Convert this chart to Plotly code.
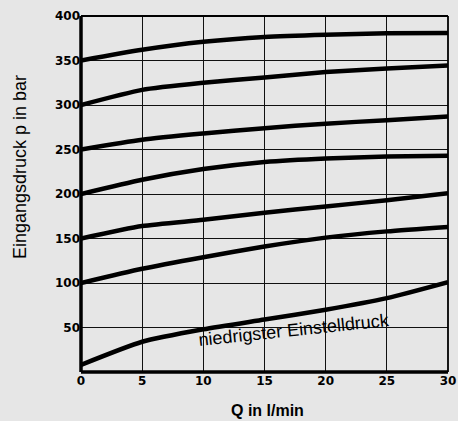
import plotly.graph_objects as go

q = [0, 5, 10, 15, 20, 25, 30]
curve_350 = [350, 362, 371, 376.5, 379, 380.5, 381]
curve_300 = [300, 317, 325, 331, 337, 341, 344.5]
curve_250 = [250, 261, 268, 274, 279, 283, 287]
curve_200 = [200, 216, 228, 236, 240, 242, 243]
curve_150 = [150, 164, 171, 179, 186, 193, 201]
curve_100 = [100, 116, 129, 141, 151, 158, 163]
curve_min = [8, 34, 48, 59, 70, 83, 101]

x_ticks = [0, 5, 10, 15, 20, 25, 30]
y_ticks = [50, 100, 150, 200, 250, 300, 350, 400]

L, R, T, B = 81, 10, 16, 49
PW = 458 - L - R
PH = 421 - T - B

fig = go.Figure()
for c in [curve_350, curve_300, curve_250, curve_200, curve_150, curve_100, curve_min]:
    fig.add_trace(go.Scatter(x=q, y=c, mode="lines",
                             line=dict(color="black", width=4.5, shape="spline", smoothing=0.6),
                             showlegend=False, hoverinfo="skip"))

fig.update_layout(
    width=458, height=421,
    margin=dict(l=L, r=R, t=T, b=B, autoexpand=False),
    paper_bgcolor="#e6e6e6", plot_bgcolor="#e6e6e6",
    showlegend=False,
)
fig.update_xaxes(range=[0, 30], tickvals=x_ticks, ticktext=[str(v) for v in x_ticks],
                 showgrid=True, gridcolor="#111111", gridwidth=1.1,
                 showline=False, zeroline=False, ticks="", automargin=False,
                 tickfont=dict(family="DejaVu Sans", size=12, color="black", weight="bold"),
                 fixedrange=True)
fig.update_yaxes(range=[0, 400], tickvals=y_ticks, ticktext=[str(v) for v in y_ticks],
                 showgrid=True, gridcolor="#111111", gridwidth=1.1,
                 showline=False, zeroline=False, ticks="", automargin=False,
                 tickfont=dict(family="DejaVu Sans", size=12, color="black", weight="bold"),
                 fixedrange=True)

# frame: thick left/bottom, thinner top/right
fig.add_shape(type="line", xref="paper", yref="paper", x0=0, x1=0, y0=0, y1=1,
              line=dict(color="black", width=3.5))
fig.add_shape(type="line", xref="paper", yref="paper", x0=0, x1=1, y0=0, y1=0,
              line=dict(color="black", width=3.5))
fig.add_shape(type="line", xref="paper", yref="paper", x0=0, x1=1, y0=1, y1=1,
              line=dict(color="black", width=1.8))
fig.add_shape(type="line", xref="paper", yref="paper", x0=1, x1=1, y0=0, y1=1,
              line=dict(color="black", width=1.8))

fig.add_annotation(x=17.4, y=47, xref="x", yref="y", text="niedrigster Einstelldruck",
                   showarrow=False, textangle=-6,
                   font=dict(family="Liberation Sans", size=18, color="black"))
fig.add_annotation(x=(20 - L) / PW, y=(372 - 167) / PH, xref="paper", yref="paper",
                   xanchor="center", yanchor="middle",
                   text="Eingangsdruck p in bar",
                   showarrow=False, textangle=-90,
                   font=dict(family="Liberation Sans", size=18, color="black"))
fig.add_annotation(x=(267 - L) / PW, y=(372 - 410) / PH, xref="paper", yref="paper",
                   xanchor="center", yanchor="middle",
                   text="<b>Q in l/min</b>",
                   showarrow=False,
                   font=dict(family="Liberation Sans", size=16, color="black"))

fig.write_html("out.html", config={"displayModeBar": False},
               post_script="document.body.style.margin='0';document.body.style.background='#e6e6e6';")
